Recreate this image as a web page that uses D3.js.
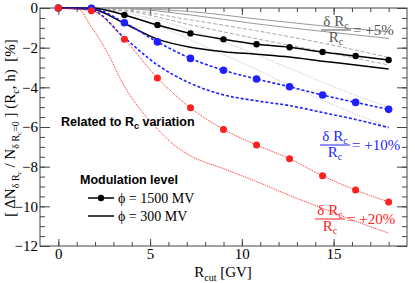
<!DOCTYPE html>
<html>
<head>
<meta charset="utf-8">
<script src="https://cdn.jsdelivr.net/npm/d3@7"></script>
<style>
  body { margin: 0; background: #fff; }
  svg text { font-family: "Liberation Serif", "Times New Roman", serif; white-space: pre; }
  .sans { font-family: "Liberation Sans", Arial, sans-serif; font-weight: bold; }
</style>
</head>
<body>
<script>
const width = 415, height = 283;

// cutoff rigidity grid of the 1500 MV points
const rcut = [0, 1.8, 3.6, 5.4, 7.2, 9, 10.8, 12.6, 14.4, 16.2, 18];

// phi = 1500 MV (with markers)
const black1500 = [0, 0, -0.35, -0.86, -1.28, -1.58, -1.83, -1.98, -2.22, -2.42, -2.62];
const blue1500  = [0, -0.02, -0.74, -1.71, -2.54, -3.14, -3.58, -3.97, -4.39, -4.76, -5.11];
const red1500   = [0, -0.14, -1.58, -3.53, -5.03, -6.12, -6.91, -7.6, -8.46, -9.18, -9.78];

// phi = 300 MV (no markers)
const black300 = [0, -0.05, -0.78, -1.57, -1.98, -2.2, -2.33, -2.47, -2.68, -2.87, -3.08];
const blue300  = [0, -0.1, -1.5, -2.87, -3.8, -4.38, -4.68, -4.92, -5.27, -5.62, -6.03];
const red300x  = [0, 1, 1.8, 2.7, 3.6, 4.5, 5.4, 6.3, 7.2, 9, 10.8, 12.6, 14.4, 16.2, 18];
const red300   = [0, 0, -0.95, -2.3, -3.95, -5.15, -6.1, -6.9, -7.45, -8.1, -8.75, -9.45, -10.1, -10.75, -11.35];

// light grey reference curves
const coarse     = [0, 3.6, 7.2, 10.8, 14.4, 18];
const greySolidA = [0, -0.02, -0.18, -0.55, -0.9, -1.2];
const greySolidB = [0, -0.03, -0.35, -0.8, -1.18, -1.53];
const greyDashA  = [0, -0.1, -0.6, -1.15, -1.77, -2.49];
const greyDashB  = [0, -0.15, -0.85, -1.55, -2.2, -2.87];
const greyDotA   = [0, 0, -0.25, -0.6, -1.1, -1.7, -2.35, -3.05, -3.75, -4.4, -5.0];
const greyDotB   = [0, 0, -0.35, -0.9, -1.6, -2.35, -3.1, -3.9, -4.65, -5.35, -6.0];

const xTicks = [0, 5, 10, 15];
const yTicks = [0, -2, -4, -6, -8, -10, -12];

const svg = d3.select("body").append("svg")
  .attr("width", width)
  .attr("height", height);

const x = d3.scaleLinear().domain([-1, 19]).range([40, 407]);
const y = d3.scaleLinear().domain([-12, 0]).range([246, 8]);

const line = d3.line()
  .x(d => x(d[0]))
  .y(d => y(d[1]))
  .curve(d3.curveMonotoneX);

function zip(xs, ys) { return xs.map((v, i) => [v, ys[i]]); }

// axes, ticks pointing into the plot
const frameColor = "#444";
const minorX = d3.range(0, 19, 1);
const minorY = d3.range(-12, 0.01, 0.5);

function styleAxis(g) {
  g.select(".domain").remove();
  g.selectAll("line").attr("stroke", frameColor);
  g.selectAll("text").attr("font-size", 15).attr("font-family", "Liberation Serif, Times New Roman, serif").attr("fill", "#000");
}

svg.append("g").attr("transform", "translate(0,246)")
  .call(d3.axisBottom(x).tickValues(minorX).tickSize(-4).tickFormat(""))
  .call(styleAxis);
svg.append("g").attr("transform", "translate(0,246)")
  .call(d3.axisBottom(x).tickValues(xTicks).tickSize(-7).tickPadding(2))
  .call(styleAxis);
svg.append("g").attr("transform", "translate(0,8)")
  .call(d3.axisTop(x).tickValues(minorX).tickSize(-4).tickFormat(""))
  .call(styleAxis);
svg.append("g").attr("transform", "translate(0,8)")
  .call(d3.axisTop(x).tickValues(xTicks).tickSize(-7).tickFormat(""))
  .call(styleAxis);

svg.append("g").attr("transform", "translate(40,0)")
  .call(d3.axisLeft(y).tickValues(minorY).tickSize(-5).tickFormat(""))
  .call(styleAxis);
svg.append("g").attr("transform", "translate(40,0)")
  .call(d3.axisLeft(y).tickValues(yTicks).tickSize(-10).tickPadding(2))
  .call(styleAxis);
svg.append("g").attr("transform", "translate(407,0)")
  .call(d3.axisRight(y).tickValues(minorY).tickSize(-5).tickFormat(""))
  .call(styleAxis);
svg.append("g").attr("transform", "translate(407,0)")
  .call(d3.axisRight(y).tickValues(yTicks).tickSize(-10).tickFormat(""))
  .call(styleAxis);

svg.append("rect")
  .attr("x", 40).attr("y", 8).attr("width", 367).attr("height", 238)
  .attr("fill", "none").attr("stroke", frameColor);

// grey curves
const greys = [
  [coarse, greySolidA, "#999", null],
  [coarse, greySolidB, "#999", null],
  [coarse, greyDashA, "#aaa", "4,2"],
  [coarse, greyDashB, "#aaa", "4,2"],
  [rcut, greyDotA, "#bbb", "1,1.5"],
  [rcut, greyDotB, "#bbb", "1,1.5"]
];
greys.forEach(([xs, ys, c, dash]) => {
  svg.append("path")
    .attr("d", line(zip(xs, ys)))
    .attr("fill", "none").attr("stroke", c).attr("stroke-width", 1)
    .attr("stroke-dasharray", dash);
});

// coloured curves
const series = [
  { xs: rcut, ys: black300, color: "#000", dash: null, w: 1.5 },
  { xs: rcut, ys: blue300, color: "#1f1fff", dash: "3,2", w: 1.6 },
  { xs: red300x, ys: red300, color: "#ff2020", dash: "1,1", w: 1 },
  { xs: rcut, ys: black1500, color: "#000", dash: null, w: 1.5, r: 3.2 },
  { xs: rcut, ys: blue1500, color: "#1f1fff", dash: "3,2", w: 1.6, r: 3.8 },
  { xs: rcut, ys: red1500, color: "#ff2020", dash: "1,1", w: 1, r: 3.5 }
];
series.forEach(s => {
  svg.append("path")
    .attr("d", line(zip(s.xs, s.ys)))
    .attr("fill", "none").attr("stroke", s.color).attr("stroke-width", s.w)
    .attr("stroke-dasharray", s.dash);
});
series.filter(s => s.r).forEach(s => {
  svg.append("g").selectAll("circle")
    .data(zip(s.xs, s.ys))
    .enter().append("circle")
      .attr("cx", d => x(d[0]))
      .attr("cy", d => y(d[1]))
      .attr("r", s.r)
      .attr("fill", s.color);
});

// fraction labels
function fraction(cx, cy, color, value) {
  const g = svg.append("g").attr("fill", color);
  const top = g.append("text").attr("x", cx).attr("y", cy - 4).attr("text-anchor", "middle").attr("font-size", 15);
  top.append("tspan").text("δ R");
  top.append("tspan").attr("font-size", 10).attr("dy", 3).text("c");
  g.append("line").attr("x1", cx - 15).attr("x2", cx + 15).attr("y1", cy).attr("y2", cy)
    .attr("stroke", color).attr("stroke-width", 1);
  const bot = g.append("text").attr("x", cx).attr("y", cy + 12).attr("text-anchor", "middle").attr("font-size", 15);
  bot.append("tspan").text("R");
  bot.append("tspan").attr("font-size", 10).attr("dy", 3).text("c");
  g.append("text").attr("x", cx + 17).attr("y", cy + 5).attr("font-size", 15).text("= " + value);
}
fraction(336, 30, "#555", "+5%");
fraction(335, 145, "#1f1fff", "+10%");
fraction(330, 219, "#ff2020", "+20%");

// inner annotations
const rel = svg.append("text").attr("class", "sans").attr("x", 61).attr("y", 126).attr("font-size", 12.5);
rel.append("tspan").text("Related to R");
rel.append("tspan").attr("font-size", 9).attr("dy", 3).text("c");
rel.append("tspan").attr("dy", -3).text(" variation");

svg.append("text").attr("class", "sans").attr("x", 80).attr("y", 184).attr("font-size", 12.5).text("Modulation level");

const legend = [[198, true, "ϕ = 1500 MV"], [216, false, "ϕ = 300 MV"]];
legend.forEach(([ly, marker, label]) => {
  svg.append("line").attr("x1", 88).attr("x2", 114).attr("y1", ly).attr("y2", ly)
    .attr("stroke", "#000").attr("stroke-width", 1.5);
  if (marker) svg.append("circle").attr("cx", 101).attr("cy", ly).attr("r", 3.2).attr("fill", "#000");
  svg.append("text").attr("x", 118).attr("y", ly + 4.5).attr("font-size", 14).text(label);
});

// axis titles
const xt = svg.append("text").attr("x", 223).attr("y", 277).attr("text-anchor", "middle").attr("font-size", 15);
xt.append("tspan").text("R");
xt.append("tspan").attr("font-size", 10).attr("dy", 4).text("cut");
xt.append("tspan").attr("dy", -4).text(" [GV]");

const yt = svg.append("text").attr("transform", "translate(15,128) rotate(-90)")
  .attr("text-anchor", "middle").attr("font-size", 15);
yt.append("tspan").text("[ ΔN");
yt.append("tspan").attr("font-size", 10).attr("dy", 4).text("δ R");
yt.append("tspan").attr("font-size", 7).attr("dy", 2).text("c");
yt.append("tspan").attr("font-size", 15).attr("dy", -6).text(" / N");
yt.append("tspan").attr("font-size", 10).attr("dy", 4).text("δ R");
yt.append("tspan").attr("font-size", 7).attr("dy", 2).text("c");
yt.append("tspan").attr("font-size", 10).attr("dy", -2).text("=0");
yt.append("tspan").attr("font-size", 15).attr("dy", -4).text(" ] (R");
yt.append("tspan").attr("font-size", 10).attr("dy", 4).text("c");
yt.append("tspan").attr("font-size", 15).attr("dy", -4).text(", h)  [%]");
</script>
</body>
</html>
